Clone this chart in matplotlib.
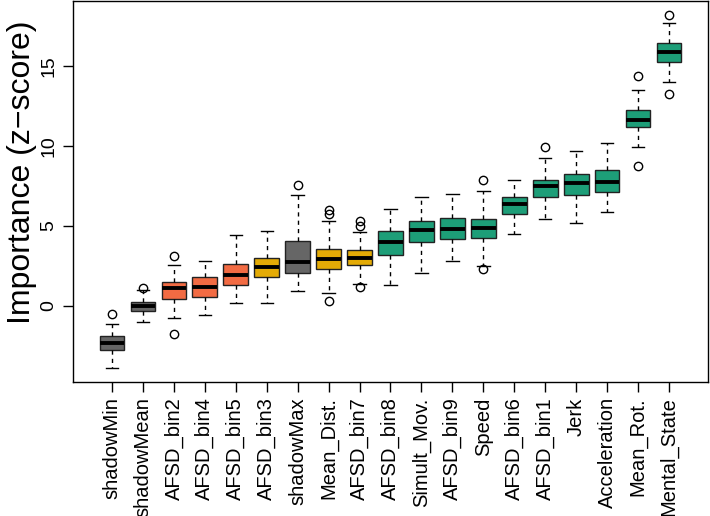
import matplotlib
matplotlib.use("Agg")
import matplotlib.pyplot as plt

plt.rcParams['font.family'] = ['Liberation Sans', 'DejaVu Sans']

features = ["shadowMin", "shadowMean", "AFSD_bin2", "AFSD_bin4", "AFSD_bin5",
            "AFSD_bin3", "shadowMax", "Mean_Dist.", "AFSD_bin7", "AFSD_bin8",
            "Simult_Mov.", "AFSD_bin9", "Speed", "AFSD_bin6", "AFSD_bin1",
            "Jerk", "Acceleration", "Mean_Rot.", "Mental_State"]
groups = ["shadow", "shadow", "rejected", "rejected", "rejected",
          "tentative", "shadow", "tentative", "tentative", "confirmed",
          "confirmed", "confirmed", "confirmed", "confirmed", "confirmed",
          "confirmed", "confirmed", "confirmed", "confirmed"]

# box statistics
whislo = [-3.89, -1.01, -0.74, -0.55, 0.16, 0.16, 0.91, 0.82, 1.36, 1.30,
          2.03, 2.78, 2.49, 4.47, 5.41, 5.20, 5.89, 9.93, 14.03]
q1 = [-2.78, -0.32, 0.45, 0.55, 1.30, 1.78, 2.07, 2.30, 2.57, 3.20,
      3.99, 4.20, 4.24, 5.76, 6.78, 6.91, 7.11, 11.20, 15.28]
med = [-2.32, -0.01, 1.11, 1.18, 1.91, 2.43, 2.74, 2.93, 2.99, 3.99,
       4.74, 4.82, 4.89, 6.39, 7.47, 7.68, 7.78, 11.66, 15.89]
q3 = [-1.86, 0.22, 1.49, 1.80, 2.64, 2.99, 4.05, 3.55, 3.49, 4.66,
      5.32, 5.47, 5.45, 6.82, 7.89, 8.22, 8.53, 12.26, 16.43]
whishi = [-1.16, 1.01, 2.53, 2.78, 4.43, 4.68, 6.93, 5.30, 4.59, 6.07,
          6.78, 6.97, 7.18, 7.89, 9.28, 9.72, 10.18, 13.53, 17.68]
outliers = [[-0.53], [1.11], [3.11, -1.76], [], [], [], [7.57],
            [6.01, 5.76, 0.32], [5.30, 4.99, 1.16], [], [], [], [7.86, 2.32],
            [], [9.93], [], [], [14.39, 8.72], [18.20, 13.24]]

colors = {"shadow": "#666666", "rejected": "#F26B43",
          "tentative": "#E4AB06", "confirmed": "#1D9E78"}

stats = []
for i in range(len(features)):
    stats.append({"label": features[i], "whislo": whislo[i], "q1": q1[i],
                  "med": med[i], "q3": q3[i], "whishi": whishi[i],
                  "fliers": outliers[i]})

fig = plt.figure(figsize=(7.10, 5.16), dpi=100)
ax = fig.add_axes([73 / 710, 134 / 516, 635 / 710, 381 / 516])

pos = list(range(1, len(features) + 1))
bp = ax.bxp(stats, positions=pos, widths=0.8, patch_artist=True,
            boxprops=dict(edgecolor="#222222", linewidth=1.0),
            medianprops=dict(color="black", linewidth=2.8, solid_capstyle="butt"),
            whiskerprops=dict(color="black", linewidth=1.0, linestyle=(0, (3, 3))),
            capprops=dict(color="black", linewidth=1.0),
            capwidths=0.4,
            flierprops=dict(marker="o", markerfacecolor="none",
                            markeredgecolor="black", markersize=6,
                            markeredgewidth=1.0))
for patch, g in zip(bp["boxes"], groups):
    patch.set_facecolor(colors[g])

n = len(features)
ax.set_xlim(0.5 - 0.04 * n, n + 0.5 + 0.04 * n)
ax.set_ylim(-4.77, 19.08)
ax.set_xticks(pos)
ax.set_xticklabels(features, rotation=90, fontsize=14.5)
ax.set_yticks([0, 5, 10, 15])
ax.set_yticklabels(["0", "5", "10", "15"], rotation=90, va="center", fontsize=14)
ax.tick_params(direction="out", length=7, width=1, pad=4)
ax.set_ylabel("Importance (z\u2212score)", fontsize=23)
ax.yaxis.set_label_coords(-0.057, 0.551)
for s in ax.spines.values():
    s.set_linewidth(1.0)

fig.savefig("out.png", dpi=100)
